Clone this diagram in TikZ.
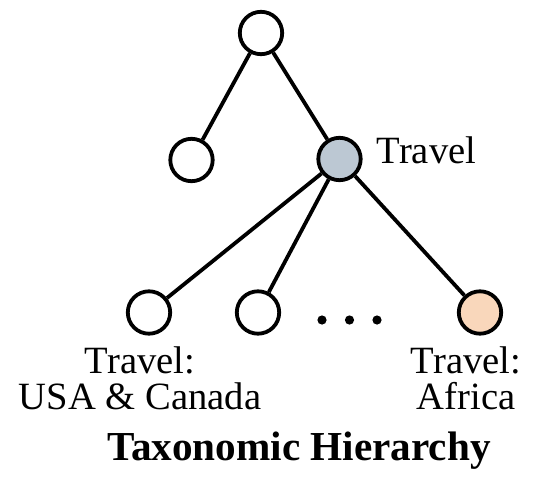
\documentclass[tikz,border=0pt]{standalone}
\usepackage{fontspec}
\setmainfont{Liberation Serif}
\usetikzlibrary{positioning}

\definecolor{catgray}{HTML}{BCC8D3}
\definecolor{catpeach}{HTML}{F9D7BB}

\begin{document}
\begin{tikzpicture}[
    x=0.5pt, y=-0.5pt,
    line width=1.9pt,
    cat/.style={circle,draw=black,fill=white,minimum size=21.2pt,inner sep=0},
    dot/.style={circle,fill=black,minimum size=4.6pt,inner sep=0},
    lbl/.style={font=\fontsize{19.3}{18}\selectfont,inner sep=0,align=center}
  ]
  \useasboundingbox (0,0) rectangle (536,482);

  % Upper levels
  \node[cat] (root) at (261,33) {};
  \node[cat] (left) at (191.5,160) {};
  \node[cat, fill=catgray] (travel) at (339.5,159) {};

  % Leaves under Travel
  \node[cat] (usa) at (149,312.5) {};
  \node[cat] (other) at (258,312.5) {};
  \node[cat, fill=catpeach] (africa) at (480,312.5) {};

  % Dots between the leaves
  \foreach \x [count=\i] in {322,349.5,377}
    \node[dot] (d\i) at (\x,320) {};

  % Connect the tree
  \foreach \source/\dest in {root/left, root/travel, travel/usa, travel/other, travel/africa}
    \draw (\source) -- (\dest);

  % Labels
  \node[lbl, anchor=base west] (travel-lbl) at (375,163) {Travel};
  \node[lbl, anchor=north] (usa-lbl) at (140,345) {Travel:\\USA \& Canada};
  \node[lbl, anchor=north] (africa-lbl) at (466,345) {Travel:\\Africa};
  \node[lbl, anchor=base, font=\fontsize{20.6}{18}\selectfont\bfseries] (title) at (299,460) {Taxonomic Hierarchy};
\end{tikzpicture}
\end{document}
